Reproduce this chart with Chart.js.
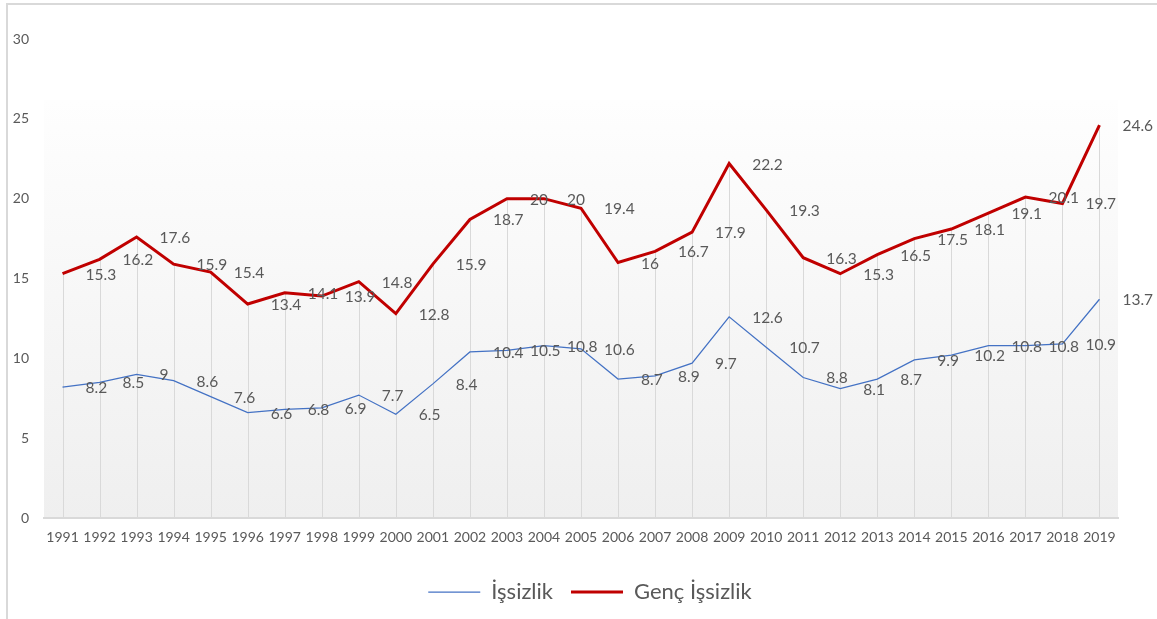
<!DOCTYPE html>
<html>
<head>
<meta charset="utf-8">
<script src="https://cdn.jsdelivr.net/npm/chart.js@4"></script>
<style>
  html, body { margin: 0; padding: 0; background: #fff; }
  #wrap { position: relative; width: 1157px; height: 619px; overflow: hidden; }
  #frame { position: absolute; left: 6px; top: 3px; width: 1200px; height: 700px;
           border-top: 2px solid #d9d9d9; border-left: 2px solid #d9d9d9; }
  canvas { position: absolute; left: 0; top: 0; }
</style>
</head>
<body>
<div id="wrap">
  <div id="frame"></div>
  <canvas id="chart" width="1157" height="619"></canvas>
</div>
<script>
const years = ['1991','1992','1993','1994','1995','1996','1997','1998','1999','2000',
  '2001','2002','2003','2004','2005','2006','2007','2008','2009','2010',
  '2011','2012','2013','2014','2015','2016','2017','2018','2019'];

const issizlik = [8.2, 8.5, 9, 8.6, 7.6, 6.6, 6.8, 6.9, 7.7, 6.5,
  8.4, 10.4, 10.5, 10.8, 10.6, 8.7, 8.9, 9.7, 12.6, 10.7,
  8.8, 8.1, 8.7, 9.9, 10.2, 10.8, 10.8, 10.9, 13.7];

const gencIssizlik = [15.3, 16.2, 17.6, 15.9, 15.4, 13.4, 14.1, 13.9, 14.8, 12.8,
  15.9, 18.7, 20, 20, 19.4, 16, 16.7, 17.9, 22.2, 19.3,
  16.3, 15.3, 16.5, 17.5, 18.1, 19.1, 20.1, 19.7, 24.6];

const yTicks = [0, 5, 10, 15, 20, 25, 30];

const textColor = '#595959';
const fontFamily = 'Lato, "Open Sans", sans-serif';

// plot area gradient, like the Excel fill
const plotBackground = {
  id: 'plotBackground',
  beforeDraw(chart) {
    const { ctx, chartArea } = chart;
    const top = chartArea.top + 61;
    ctx.save();
    const g = ctx.createLinearGradient(0, top, 0, chartArea.bottom);
    g.addColorStop(0, '#fefefe');
    g.addColorStop(1, '#efefef');
    ctx.fillStyle = g;
    ctx.fillRect(chartArea.left, top, chartArea.right - chartArea.left, chartArea.bottom - top);
    ctx.restore();

    // legend sits a bit right of the canvas centre in the original
    if (chart.legend) {
      chart.legend.left = 36;
      chart.legend.right = 1144;
    }
  }
};

// drop lines from the highest point of each year down to the axis
const dropLines = {
  id: 'dropLines',
  beforeDatasetsDraw(chart) {
    const { ctx, chartArea } = chart;
    const metas = chart.data.datasets.map((ds, i) => chart.getDatasetMeta(i));
    ctx.save();
    ctx.strokeStyle = '#d9d9d9';
    ctx.lineWidth = 1;
    years.forEach((y, j) => {
      const x = Math.round(metas[0].data[j].x) + 0.5;
      const top = Math.min(...metas.map(m => m.data[j].y));
      ctx.beginPath();
      ctx.moveTo(x, top);
      ctx.lineTo(x, chartArea.bottom);
      ctx.stroke();
    });
    ctx.restore();
  }
};

// value labels to the right of each point
const valueLabels = {
  id: 'valueLabels',
  afterDatasetsDraw(chart) {
    const { ctx } = chart;
    ctx.save();
    ctx.font = '15.5px ' + fontFamily;
    ctx.fillStyle = textColor;
    ctx.textAlign = 'left';
    ctx.textBaseline = 'middle';
    chart.data.datasets.forEach((ds, i) => {
      const meta = chart.getDatasetMeta(i);
      meta.data.forEach((pt, j) => {
        ctx.fillText(String(ds.data[j]), pt.x + 23, pt.y + 1);
      });
    });
    ctx.restore();
  }
};

const ctx = document.getElementById('chart').getContext('2d');
new Chart(ctx, {
  type: 'line',
  data: {
    labels: years,
    datasets: [
      {
        label: 'İşsizlik',
        data: issizlik,
        borderColor: '#4472c4',
        backgroundColor: '#4472c4',
        borderWidth: 1.25,
        pointRadius: 0,
        tension: 0
      },
      {
        label: 'Genç İşsizlik',
        data: gencIssizlik,
        borderColor: '#c00000',
        backgroundColor: '#c00000',
        borderWidth: 3,
        pointRadius: 0,
        tension: 0
      }
    ]
  },
  options: {
    responsive: false,
    animation: false,
    layout: { padding: { left: 10, right: 39, top: 39, bottom: 6 } },
    scales: {
      x: {
        offset: true,
        grid: { display: false, drawTicks: false },
        border: { color: '#d9d9d9', width: 2 },
        ticks: { color: textColor, font: { family: fontFamily, size: 14 }, padding: 11, maxRotation: 0, autoSkip: false },
        afterFit(scale) { scale.height = 45; }
      },
      y: {
        min: 0,
        max: 30,
        afterBuildTicks(scale) { scale.ticks = yTicks.map(v => ({ value: v })); },
        grid: { display: false, drawTicks: false },
        border: { display: false },
        ticks: { color: textColor, font: { family: fontFamily, size: 14 }, padding: 15 },
        afterFit(scale) { scale.width = 34; }
      }
    },
    plugins: {
      legend: {
        position: 'bottom',
        labels: {
          usePointStyle: true,
          pointStyle: 'line',
          pointStyleWidth: 52,
          color: textColor,
          font: { family: fontFamily, size: 22 },
          padding: 18
        }
      },
      tooltip: { enabled: false }
    }
  },
  plugins: [plotBackground, dropLines, valueLabels]
});
</script>
</body>
</html>
